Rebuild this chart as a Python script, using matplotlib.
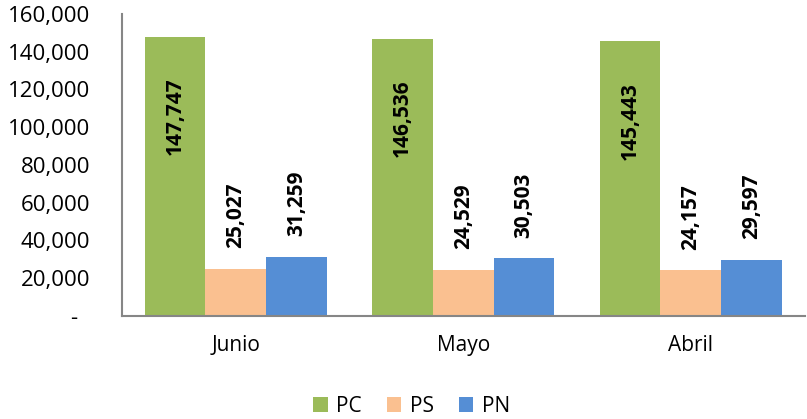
import numpy as np
import matplotlib.pyplot as plt

categories = ['Junio', 'Mayo', 'Abril']
pc = [147747, 146536, 145443]
ps = [25027, 24529, 24157]
pn = [31259, 30503, 29597]
series_names = ['PC', 'PS', 'PN']
colors = ['#9BBB59', '#FAC090', '#558ED5']

plt.rcParams['font.family'] = ['Open Sans', 'DejaVu Sans']

fig = plt.figure(figsize=(8.07, 4.19), dpi=100)
ax = fig.add_axes([0.151, 0.246, 0.846, 0.721])

x = np.arange(len(categories))
w = 0.267
for i, (vals, name, c) in enumerate(zip([pc, ps, pn], series_names, colors)):
    pos = x + (i - 1) * w
    ax.bar(pos, vals, w, color=c, label=name)
    for xp, v in zip(pos, vals):
        txt = f'{v:,}'
        if i == 0:
            ax.text(xp, v - 21500, txt, rotation=90, ha='center', va='top',
                    fontsize=15, fontweight='bold')
        else:
            ax.text(xp, v + 11000, txt, rotation=90, ha='center', va='bottom',
                    fontsize=15, fontweight='bold')

ax.set_xlim(-0.5, 2.5)
ax.set_ylim(0, 160000)
ax.set_yticks(range(0, 160001, 20000))
ax.set_yticklabels(['-  '] + [f'{t:,}' for t in range(20000, 160001, 20000)])
ax.set_xticks(x)
ax.set_xticklabels(categories)
ax.tick_params(axis='y', length=0, labelsize=16, pad=23)
ax.tick_params(axis='x', length=0, labelsize=15, pad=14)

for s in ['top', 'right']:
    ax.spines[s].set_visible(False)
for s in ['left', 'bottom']:
    ax.spines[s].set_color('#868686')
    ax.spines[s].set_linewidth(1.5)

fig.legend(loc='lower center', ncol=3, frameon=False, fontsize=15,
           bbox_to_anchor=(0.51, -0.04), handlelength=0.7, handleheight=0.7,
           columnspacing=1.2, handletextpad=0.4)

fig.savefig('out.png', dpi=100)
